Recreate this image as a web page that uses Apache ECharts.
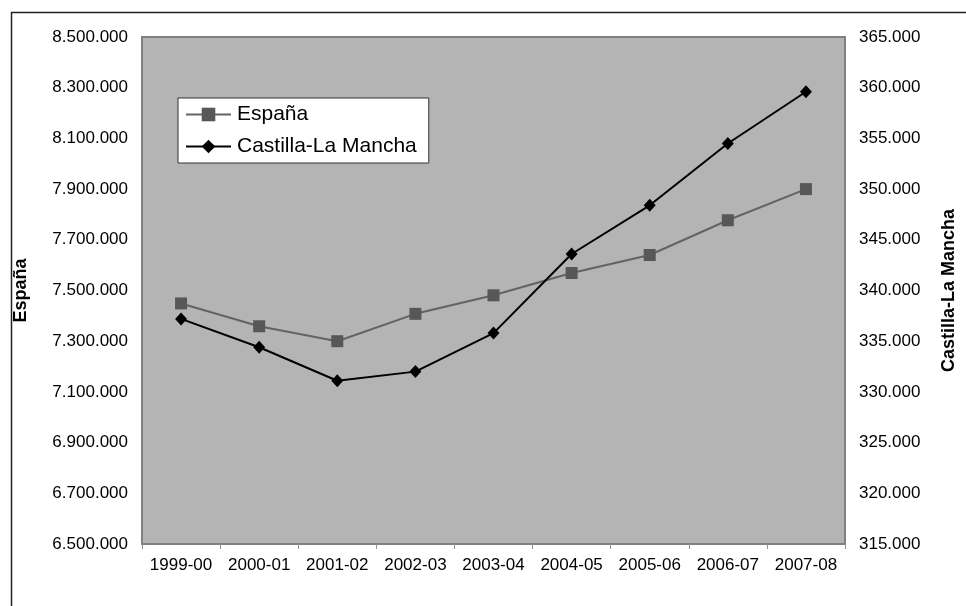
<!DOCTYPE html>
<html>
<head>
<meta charset="utf-8">
<title>España / Castilla-La Mancha</title>
<script src="https://cdn.jsdelivr.net/npm/echarts@6/dist/echarts.min.js"></script>
<style>
  html, body { margin: 0; padding: 0; background: #fff; }
  #j_chart { width: 966px; height: 606px; }
</style>
</head>
<body>
<div id="j_chart"></div>
<script>
var cursos = ['1999-00', '2000-01', '2001-02', '2002-03', '2003-04', '2004-05', '2005-06', '2006-07', '2007-08'];
var espana = [7449000, 7359000, 7300000, 7408000, 7481000, 7569000, 7640000, 7777000, 7900000];
var castilla = [337200, 334400, 331100, 332000, 335800, 343600, 348400, 354500, 359600];

var ejeEspana = { min: 6500000, max: 8500000, step: 200000 };
var ejeCastilla = { min: 315000, max: 365000, step: 5000 };

// miles con punto, como en el original
function puntos(v) {
    return String(v).replace(/\B(?=(\d{3})+(?!\d))/g, '.');
}

var myChart = echarts.init(document.getElementById('j_chart'));
var fuente = 'Liberation Sans, Arial, sans-serif';

var option = {
    backgroundColor: '#ffffff',
    animation: false,
    textStyle: { fontFamily: fuente },
    graphic: [
        {
            type: 'rect',
            left: 9, top: 10,
            shape: { width: 1000, height: 700 },
            style: { fill: 'none', stroke: '#222', lineWidth: 1.5 },
            silent: true
        }
    ],
    grid: {
        left: 142, top: 37, right: 112, bottom: 62,
        show: true,
        backgroundColor: '#b4b4b4',
        borderColor: '#808080',
        borderWidth: 2
    },
    legend: {
        orient: 'vertical',
        left: 178, top: 98,
        backgroundColor: '#ffffff',
        borderColor: '#333',
        borderWidth: 1,
        padding: [6, 12, 6, 7],
        itemWidth: 45,
        itemHeight: 17,
        itemGap: 11,
        textStyle: { fontFamily: fuente, fontSize: 21, color: '#000', padding: [0, 0, 0, 1] },
        data: ['España', 'Castilla-La Mancha']
    },
    xAxis: {
        type: 'category',
        data: cursos,
        boundaryGap: true,
        axisLine: { show: false },
        axisTick: { show: true, length: 5, lineStyle: { color: '#909090' } },
        axisLabel: { interval: 0, margin: 13, fontSize: 17, color: '#000', fontFamily: fuente },
        splitLine: { show: false }
    },
    yAxis: [
        {
            type: 'value',
            position: 'left',
            min: ejeEspana.min, max: ejeEspana.max, interval: ejeEspana.step,
            name: 'España',
            nameLocation: 'middle',
            nameRotate: 90,
            nameGap: 112,
            nameTextStyle: { fontSize: 18, fontWeight: 'bold', color: '#000', fontFamily: fuente },
            axisLine: { show: false },
            axisTick: { show: false },
            splitLine: { show: false },
            axisLabel: { margin: 14, fontSize: 17, color: '#000', fontFamily: fuente, formatter: puntos }
        },
        {
            type: 'value',
            position: 'right',
            min: ejeCastilla.min, max: ejeCastilla.max, interval: ejeCastilla.step,
            name: 'Castilla-La Mancha',
            nameLocation: 'middle',
            nameRotate: 90,
            nameGap: 95,
            nameTextStyle: { fontSize: 18, fontWeight: 'bold', color: '#000', fontFamily: fuente },
            axisLine: { show: false },
            axisTick: { show: false },
            splitLine: { show: false },
            axisLabel: { margin: 14, fontSize: 17, color: '#000', fontFamily: fuente, formatter: puntos }
        }
    ],
    series: [
        {
            name: 'España',
            type: 'line',
            yAxisIndex: 0,
            data: espana,
            symbol: 'rect',
            symbolSize: 12,
            lineStyle: { color: '#636363', width: 2 },
            itemStyle: { color: '#575757' }
        },
        {
            name: 'Castilla-La Mancha',
            type: 'line',
            yAxisIndex: 1,
            data: castilla,
            symbol: 'diamond',
            symbolSize: [12, 13],
            lineStyle: { color: '#000', width: 2 },
            itemStyle: { color: '#000' }
        }
    ]
};
myChart.setOption(option);
</script>
</body>
</html>
